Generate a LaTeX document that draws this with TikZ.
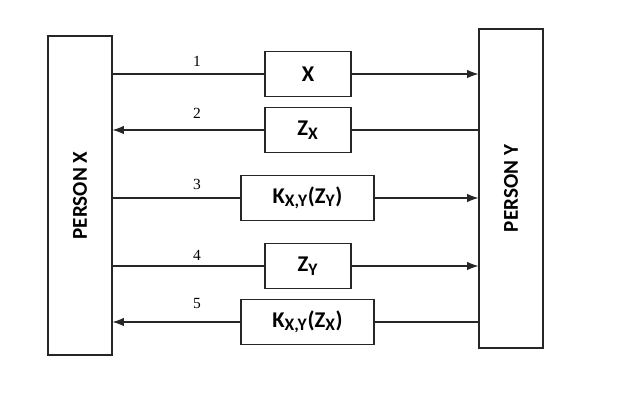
\documentclass[tikz,border=0pt]{standalone}
\usepackage{fontspec}
\setmainfont{Liberation Serif}
\newfontfamily\boxfont{Carlito}
\usetikzlibrary{arrows.meta}
\tikzset{
  msgbox/.style={draw=black!85, line width=0.8pt, minimum width=2.15cm, minimum height=1.125cm,
                 inner sep=0pt, font=\boxfont\bfseries\fontsize{16}{18}\selectfont},
  widebox/.style={msgbox, minimum width=3.325cm},
  personbox/.style={draw=black!85, line width=0.8pt, minimum width=1.6cm, minimum height=7.975cm,
                 inner sep=0pt},
  personlabel/.style={rotate=90, font=\boxfont\bfseries\fontsize{15}{17}\selectfont},
  msgline/.style={draw=black!85, line width=0.8pt},
  msgarrow/.style={msgline, -{Latex[length=8pt, width=6pt]}},
  steplabel/.style={font=\fontsize{11}{13}\selectfont}
}
\newcommand{\sub}[1]{\textsubscript{\fontsize{12.5}{13}\selectfont #1}}

\begin{document}
\begin{tikzpicture}[x=0.025cm, y=-0.025cm]
  \useasboundingbox (0,0) rectangle (621,407);

  % the two parties
  \node[personbox] (px) at (80,195.5) {};
  \node[personlabel] (pxlabel) at (px.center) {PERSON X};
  \node[personbox] (py) at (511,188.5) {};
  \node[personlabel] (pylabel) at (py.center) {PERSON Y};

  % the five messages
  \node[msgbox]  (m1) at (308,74)  {X};
  \node[msgbox]  (m2) at (308,130) {Z\sub{X}};
  \node[widebox] (m3) at (307.5,198) {K\sub{X,Y}(Z\sub{Y})};
  \node[msgbox]  (m4) at (308,266) {Z\sub{Y}};
  \node[widebox] (m5) at (307.5,322) {K\sub{X,Y}(Z\sub{X})};

  % step numbers
  \node[steplabel] (n1) at (197,61)  {1};
  \node[steplabel] (n2) at (197,113) {2};
  \node[steplabel] (n3) at (197,184) {3};
  \node[steplabel] (n4) at (197,255) {4};
  \node[steplabel] (n5) at (197,304) {5};

  % X -> Y
  \draw[msgline]  (px.east |- m1.west) -- (m1.west);
  \draw[msgarrow] (m1.east) -- (py.west |- m1.east);
  \draw[msgline]  (px.east |- m3.west) -- (m3.west);
  \draw[msgarrow] (m3.east) -- (py.west |- m3.east);
  \draw[msgline]  (px.east |- m4.west) -- (m4.west);
  \draw[msgarrow] (m4.east) -- (py.west |- m4.east);

  % Y -> X
  \draw[msgline]  (py.west |- m2.east) -- (m2.east);
  \draw[msgarrow] (m2.west) -- (px.east |- m2.west);
  \draw[msgline]  (py.west |- m5.east) -- (m5.east);
  \draw[msgarrow] (m5.west) -- (px.east |- m5.west);
\end{tikzpicture}
\end{document}
